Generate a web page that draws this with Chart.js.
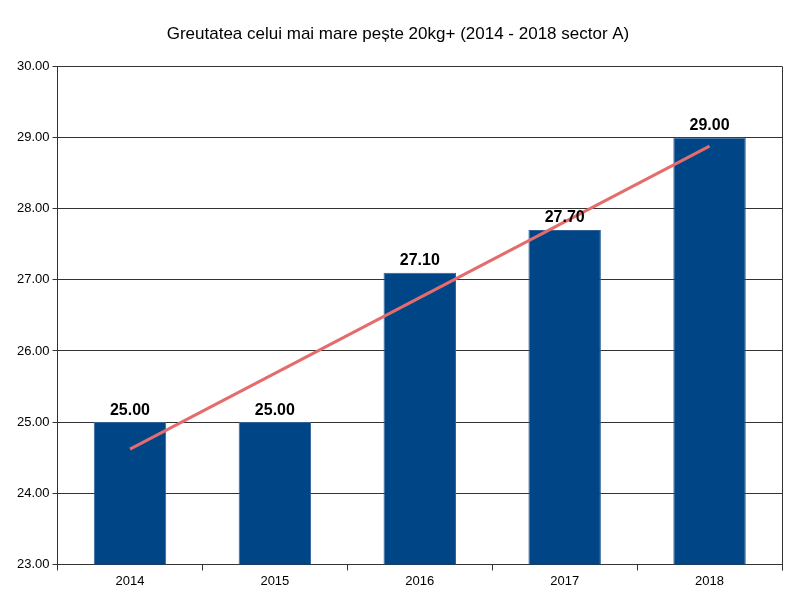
<!DOCTYPE html>
<html>
<head>
<meta charset="utf-8">
<script src="https://cdn.jsdelivr.net/npm/chart.js@4/dist/chart.umd.min.js"></script>
<style>
  html, body { margin: 0; padding: 0; background: #fff; }
  #wrap { width: 800px; height: 600px; }
</style>
</head>
<body>
<div id="wrap"><canvas id="chart"></canvas></div>
<script>
'use strict'

// data
const years = ["2014", "2015", "2016", "2017", "2018"];
const weights = [25.00, 25.00, 27.10, 27.70, 29.00];
// trend line end points
const trend = [24.62, null, null, null, 28.88];
const yMin = 23;
const yMax = 30;

// value labels above bars
const barLabels = {
  id: 'barLabels',
  afterDatasetsDraw(chart) {
    const ctx = chart.ctx;
    const meta = chart.getDatasetMeta(0);
    ctx.save();
    ctx.font = 'bold 16px "Liberation Sans", Arial, sans-serif';
    ctx.fillStyle = '#000';
    ctx.textAlign = 'center';
    ctx.textBaseline = 'bottom';
    meta.data.forEach(function(bar, i) {
      ctx.fillText(weights[i].toFixed(2), bar.x, bar.y - 4);
    });
    ctx.restore();
  }
};

// right frame line
const rightBorder = {
  id: 'rightBorder',
  beforeDatasetsDraw(chart) {
    const a = chart.chartArea;
    const ctx = chart.ctx;
    ctx.save();
    ctx.strokeStyle = '#333';
    ctx.lineWidth = 1;
    ctx.beginPath();
    ctx.moveTo(Math.round(a.right) + 0.5, a.top);
    ctx.lineTo(Math.round(a.right) + 0.5, a.bottom + 6);
    ctx.stroke();
    ctx.restore();
  }
};

const ctx = document.getElementById('chart').getContext('2d');
let chart = new Chart(ctx, {
  data: {
    labels: years,
    datasets: [
      {
        type: 'bar',
        data: weights,
        backgroundColor: '#004586',
        borderColor: '#2f6198',
        borderWidth: 1,
        barPercentage: 0.5,
        categoryPercentage: 1.0,
        order: 2
      },
      {
        type: 'line',
        data: trend,
        spanGaps: true,
        borderColor: '#e46c6c',
        borderWidth: 3,
        pointRadius: 0,
        order: 1
      }
    ]
  },
  options: {
    responsive: true,
    maintainAspectRatio: false,
    animation: false,
    layout: { padding: { left: 14, right: 18, top: 0, bottom: 8 } },
    plugins: {
      legend: { display: false },
      tooltip: { enabled: false },
      title: {
        display: true,
        text: 'Greutatea celui mai mare pește 20kg+ (2014 - 2018 sector A)',
        color: '#000',
        font: { family: '"Liberation Sans", Arial, sans-serif', size: 17, weight: 'normal' },
        padding: { top: 24, bottom: 22 }
      }
    },
    scales: {
      x: {
        offset: true,
        grid: {
          display: true,
          offset: true,
          drawOnChartArea: false,
          drawTicks: true,
          tickLength: 6,
          color: '#333'
        },
        border: { color: '#333' },
        ticks: {
          color: '#000',
          font: { family: '"Liberation Sans", Arial, sans-serif', size: 13 },
          padding: 3
        }
      },
      y: {
        min: yMin,
        max: yMax,
        grid: { color: '#333', tickLength: 5 },
        border: { color: '#333' },
        ticks: {
          stepSize: 1,
          color: '#000',
          font: { family: '"Liberation Sans", Arial, sans-serif', size: 13 },
          padding: 3,
          callback: function(v) { return v.toFixed(2); }
        }
      }
    }
  },
  plugins: [barLabels, rightBorder]
});
</script>
</body>
</html>
